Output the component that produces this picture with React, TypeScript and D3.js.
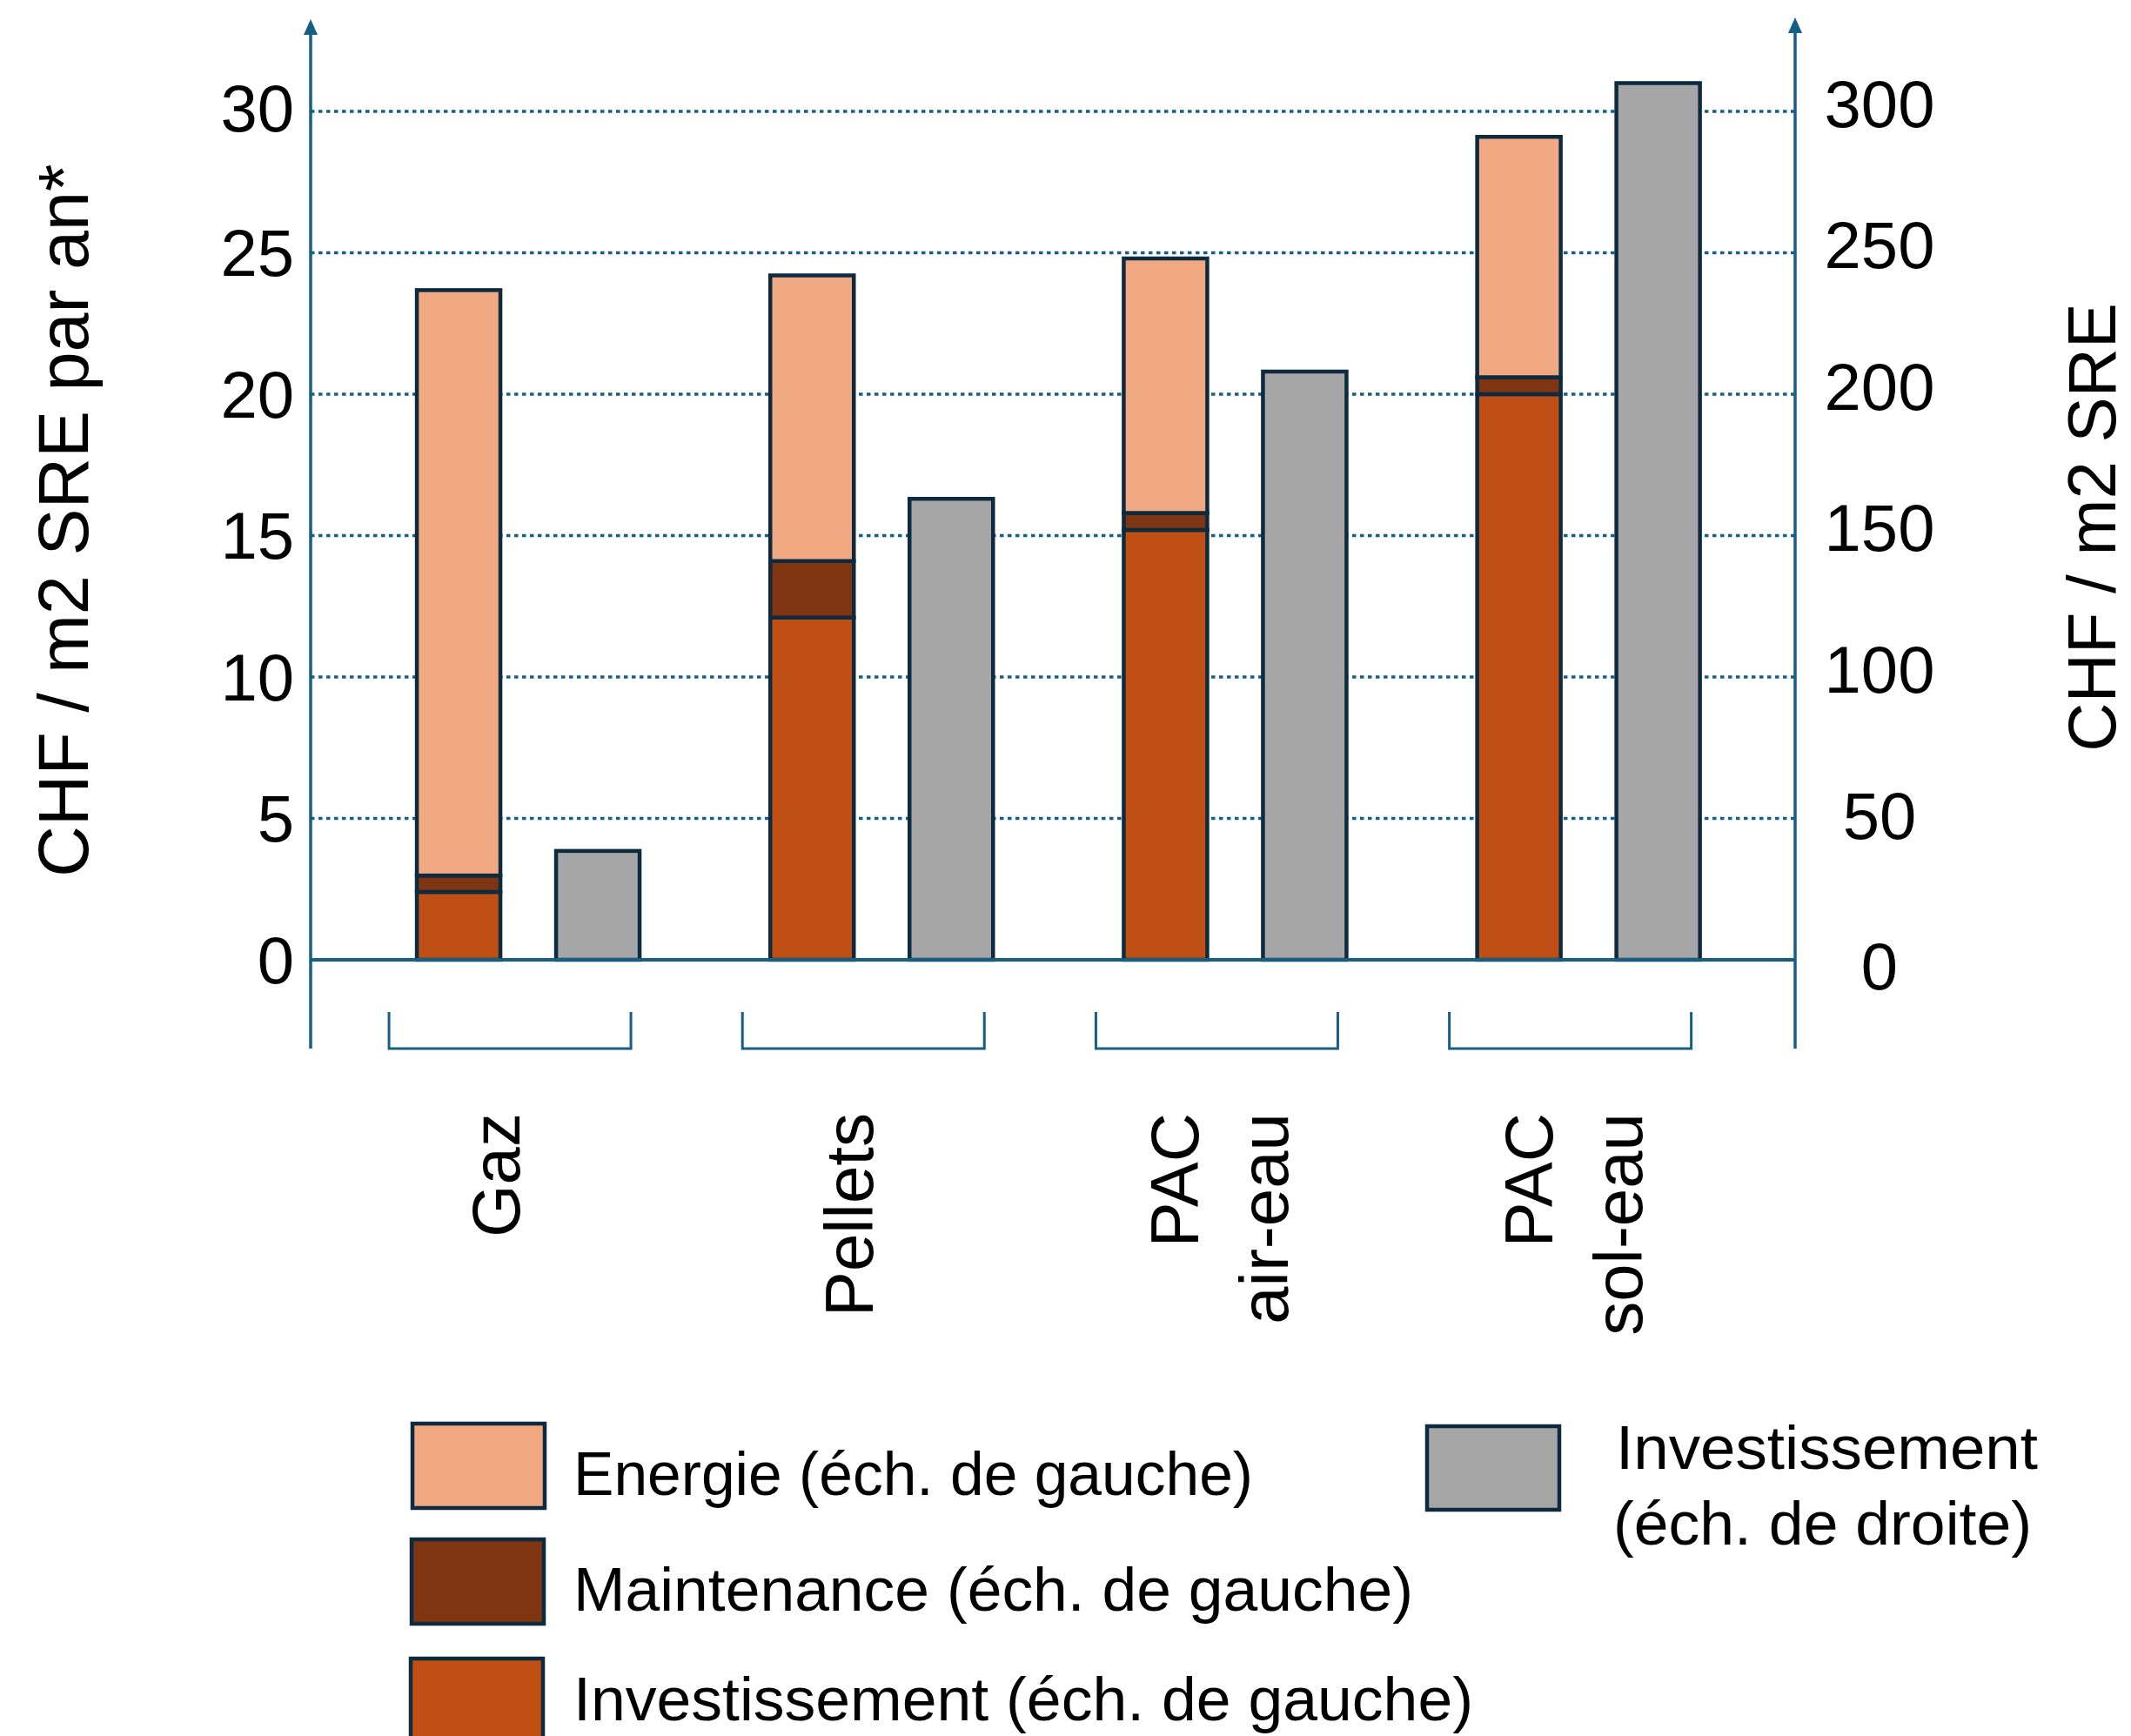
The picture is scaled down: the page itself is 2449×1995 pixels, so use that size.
import React from 'react'
import * as d3 from 'd3'

const categories = ['Gaz', 'Pellets', 'PAC air-eau', 'PAC sol-eau']
const categoryLines = [['Gaz'], ['Pellets'], ['PAC', 'air-eau'], ['PAC', 'sol-eau']]
const investissement = [2.4, 12.1, 15.2, 20.0]
const maintenance = [0.58, 2.0, 0.6, 0.6]
const energie = [20.7, 10.1, 9.0, 8.5]
const investDroite = [38.5, 163, 208, 310]
const leftTicks = [0, 5, 10, 15, 20, 25, 30]
const rightTicks = [0, 50, 100, 150, 200, 250, 300]
const leftTitle = 'CHF / m2 SRE par an*'
const rightTitle = 'CHF / m2 SRE'

const W = 2449
const H = 1995
const axisX0 = 357
const axisX1 = 2063
const axisColor = '#156082'
const barStroke = '#0E2A3E'
const font = "'Liberation Sans', Arial, sans-serif"
const legendFont = "'Liberation Sans Narrow', 'Liberation Sans', Arial, sans-serif"

const colors = {
  investissement: '#C04F15',
  maintenance: '#7F3511',
  energie: '#F1A983',
  droite: '#A6A6A6',
}

const legendItems = [
  { label: 'Energie (éch. de gauche)', color: colors.energie, x: 474, y: 1636, base: 1718, len: 781 },
  { label: 'Maintenance (éch. de gauche)', color: colors.maintenance, x: 473, y: 1769, base: 1851, len: 965 },
  { label: 'Investissement (éch. de gauche)', color: colors.investissement, x: 472, y: 1906, base: 1977, len: 1034 },
]

export default function App() {
  const table = categories.map((c, i) => ({
    cat: c,
    investissement: investissement[i],
    maintenance: maintenance[i],
    energie: energie[i],
    droite: investDroite[i],
  }))

  const x = d3.scaleBand().domain(categories).range([axisX0, axisX1]).paddingInner(0).paddingOuter(0.1).align(0.578)
  const xSub = d3.scaleBand().domain(['stack', 'droite']).range([-128, 128]).paddingInner(0.4).paddingOuter(0)
  const yL = d3.scaleLinear().domain([0, 30]).range([1103, 128])
  const yR = d3.scaleLinear().domain([0, 300]).range([1103, 128])

  const keys = ['investissement', 'maintenance', 'energie'] as const
  const series = d3.stack<any>().keys(keys as any)(table)

  const center = (c: string) => (x(c) as number) + x.bandwidth() / 2
  const bw = xSub.bandwidth()

  return (
    <svg width={W} height={H} style={{ position: 'absolute', left: 0, top: 0, background: '#fff' }}>
      {/* grid */}
      {leftTicks.slice(1).map((t) => (
        <line key={'g' + t} x1={axisX0} x2={axisX1} y1={yL(t)} y2={yL(t)}
          stroke={axisColor} strokeWidth={3.5} strokeDasharray="4.5 4.5" />
      ))}

      {/* stacked bars, left scale */}
      {series.map((s) => (
        <g key={s.key} fill={(colors as any)[s.key]}>
          {s.map((d, i) => (
            <rect key={i} x={center(categories[i]) + (xSub('stack') as number)} width={bw}
              y={yL(d[1])} height={yL(d[0]) - yL(d[1])}
              stroke={barStroke} strokeWidth={4.5} />
          ))}
        </g>
      ))}

      {/* investment bars, right scale */}
      {table.map((d) => (
        <rect key={'r' + d.cat} x={center(d.cat) + (xSub('droite') as number)} width={bw}
          y={yR(d.droite)} height={yR(0) - yR(d.droite)}
          fill={colors.droite} stroke={barStroke} strokeWidth={4.5} />
      ))}

      {/* zero line */}
      <line x1={axisX0} x2={axisX1} y1={yL(0)} y2={yL(0)} stroke={axisColor} strokeWidth={4} />

      {/* axes */}
      <line x1={axisX0} x2={axisX0} y1={38} y2={1205} stroke={axisColor} strokeWidth={3.5} />
      <path d={`M${axisX0 - 8},${40} L${axisX0},${22} L${axisX0 + 8},${40} Z`} fill={axisColor} />
      <line x1={axisX1} x2={axisX1} y1={36} y2={1205} stroke={axisColor} strokeWidth={3.5} />
      <path d={`M${axisX1 - 8},${38} L${axisX1},${20} L${axisX1 + 8},${38} Z`} fill={axisColor} />

      {/* brackets */}
      {categories.map((c) => {
        const cx = center(c)
        return (
          <path key={'b' + c} d={`M${cx - 160},1163 V1205 H${cx + 118} V1163`}
            fill="none" stroke={axisColor} strokeWidth={3} />
        )
      })}

      {/* left ticks */}
      {leftTicks.map((t) => (
        <text key={'lt' + t} x={338} y={yL(t) + (t === 30 ? -4 : 0)} textAnchor="end" dominantBaseline="central"
          fontFamily={font} fontSize={76} fill="#000">{t}</text>
      ))}
      {/* right ticks */}
      {rightTicks.map((t) => (
        <text key={'rt' + t} x={2160} y={yR(t) + (t === 0 ? 7 : t === 50 ? -3 : -9)} textAnchor="middle" dominantBaseline="central"
          fontFamily={font} fontSize={76} fill="#000">{t}</text>
      ))}

      {/* axis titles */}
      <text transform={`translate(101,598) rotate(-90)`} textAnchor="middle"
        fontFamily={font} fontSize={81} fill="#000">{leftTitle}</text>
      <text transform={`translate(2431,606) rotate(-90)`} textAnchor="middle"
        fontFamily={font} fontSize={78} fill="#000">{rightTitle}</text>

      {/* category labels */}
      {categories.map((c, i) => {
        const lines = categoryLines[i]
        const offs = lines.length === 1 ? [-10] : [-42, 61]
        return lines.map((ln, j) => (
          <text key={c + j} transform={`translate(${center(c) + offs[j]},1279) rotate(-90)`}
            textAnchor="end" fontFamily={font} fontSize={78} fill="#000">{ln}</text>
        ))
      })}

      {/* legend */}
      {legendItems.map((it) => (
        <g key={it.label}>
          <rect x={it.x} y={it.y} width={152} height={97} fill={it.color} stroke={barStroke} strokeWidth={4.5} />
          <text x={659} y={it.base} fontFamily={legendFont} fontSize={70} fill="#000"
            textLength={it.len} lengthAdjust="spacingAndGlyphs">{it.label}</text>
        </g>
      ))}
      <rect x={1640} y={1639} width={152} height={96} fill={colors.droite} stroke={barStroke} strokeWidth={4.5} />
      <text x={1857} y={1688} fontFamily={legendFont} fontSize={70} fill="#000"
        textLength={485} lengthAdjust="spacingAndGlyphs">Investissement</text>
      <text x={1854} y={1775} fontFamily={legendFont} fontSize={70} fill="#000"
        textLength={481} lengthAdjust="spacingAndGlyphs">(éch. de droite)</text>
    </svg>
  )
}
